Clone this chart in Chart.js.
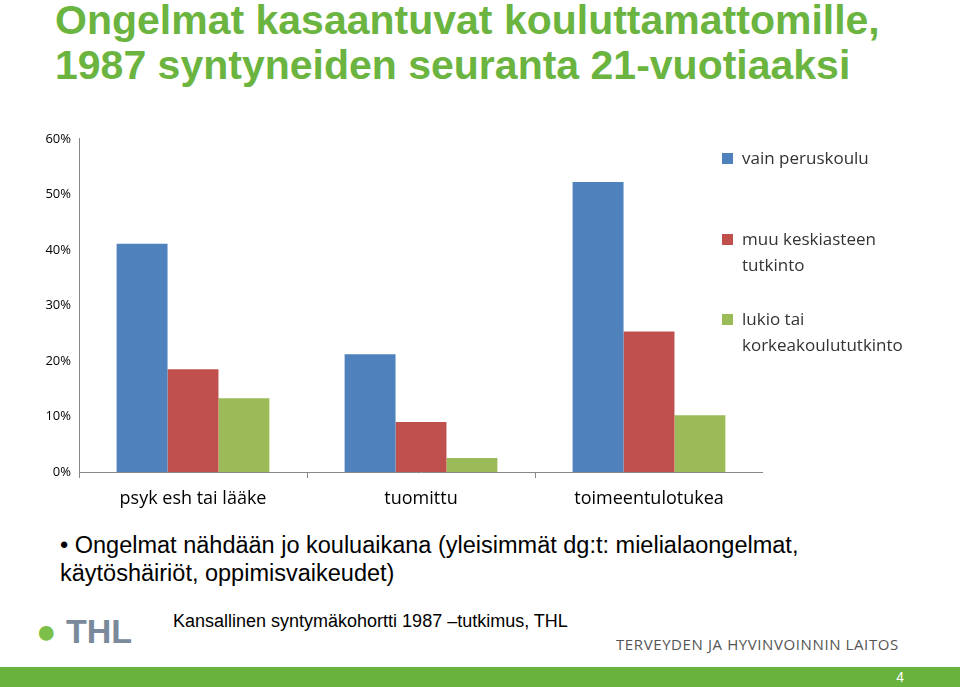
<!DOCTYPE html>
<html><head><meta charset="utf-8">
<script src="https://cdn.jsdelivr.net/npm/chart.js@4"></script>
<style>
body{margin:0;width:960px;height:687px;position:relative;overflow:hidden;background:#fff;font-family:"Liberation Sans",Arial,sans-serif}
#title{position:absolute;left:55px;top:-2px;color:#6ab43f;font-weight:bold;font-size:41px;line-height:45px}
#wrap{position:absolute;left:20px;top:128px;width:743px;height:392px}
.leg{position:absolute;left:722px;font-family:"Open Sans",sans-serif;font-size:17px;color:#333;line-height:26px}
.leg i{position:absolute;left:0;top:8px;width:11px;height:11px}
.leg span{display:block;padding-left:20px}
#bul{position:absolute;left:60px;top:531px;font-size:23.5px;line-height:28px;color:#000}
#src{position:absolute;left:173px;top:611px;font-size:18px}
#thl{position:absolute;left:616px;top:634px;font-size:15px;letter-spacing:0.6px;color:#555;font-family:"Open Sans",sans-serif}
#logo{position:absolute;left:36px;top:612px;font-size:34px;font-weight:bold;color:#7a8a9a}
#foot{position:absolute;left:0;top:667px;width:960px;height:20px;background:#6ab23e}
#foot span{position:absolute;right:56px;top:2px;color:#fff;font-size:14px}
</style></head><body>
<div id="title">Ongelmat kasaantuvat kouluttamattomille,<br>1987 syntyneiden seuranta 21-vuotiaaksi</div>
<div id="wrap"><canvas id="c"></canvas></div>
<div class="leg" style="top:145px"><i style="background:#4f81bd"></i><span>vain peruskoulu</span></div>
<div class="leg" style="top:226px"><i style="background:#c0504d"></i><span>muu keskiasteen<br>tutkinto</span></div>
<div class="leg" style="top:306px"><i style="background:#9bbb59"></i><span>lukio tai<br>korkeakoulututkinto</span></div>
<div id="bul">• Ongelmat nähdään jo kouluaikana (yleisimmät dg:t: mielialaongelmat,<br>käytöshäiriöt, oppimisvaikeudet)</div>
<div id="logo"><span style="color:#7cc04a">●</span> THL</div>
<div id="src">Kansallinen syntymäkohortti 1987 –tutkimus, THL</div>
<div id="thl">TERVEYDEN JA HYVINVOINNIN LAITOS</div>
<div id="foot"><span>4</span></div>
<script>
const categories = ['psyk esh tai lääke', 'tuomittu', 'toimeentulotukea'];
const seriesNames = ['vain peruskoulu', 'muu keskiasteen tutkinto', 'lukio tai korkeakoulututkinto'];
const peruskoulu = [41.1, 21.2, 52.2];
const keskiaste = [18.5, 9.0, 25.3];
const korkea = [13.3, 2.5, 10.2];
const yTicks = [0, 10, 20, 30, 40, 50, 60];
const colors = ['#4f81bd', '#c0504d', '#9bbb59'];

new Chart(document.getElementById('c'), {
  type: 'bar',
  data: {
    labels: categories,
    datasets: [peruskoulu, keskiaste, korkea].map(function(d, i) {
      return { label: seriesNames[i], data: d, backgroundColor: colors[i], categoryPercentage: 0.67, barPercentage: 1 };
    })
  },
  options: {
    responsive: true, maintainAspectRatio: false, animation: false,
    layout: { padding: { top: 10, right: 0 } },
    plugins: { legend: { display: false }, tooltip: { enabled: false } },
    scales: {
      x: {
        grid: { display: true, drawOnChartArea: false, drawTicks: true, offset: true, tickLength: 6, color: '#888' },
        border: { color: '#888' },
        ticks: { color: '#000', font: { family: 'Open Sans', size: 18 }, padding: 10 },
        afterFit: function(s) { s.height = 48; }
      },
      y: {
        min: 0, max: 60,
        afterBuildTicks: function(s) { s.ticks = yTicks.map(function(v) { return { value: v }; }); },
        grid: { display: false, drawTicks: true, tickLength: 5 },
        border: { color: '#888' },
        ticks: { color: '#000', font: { family: 'Open Sans', size: 13 }, callback: function(v) { return v + '%'; } },
        afterFit: function(s) { s.width = 59; }
      }
    }
  }
});
</script>
</body></html>
